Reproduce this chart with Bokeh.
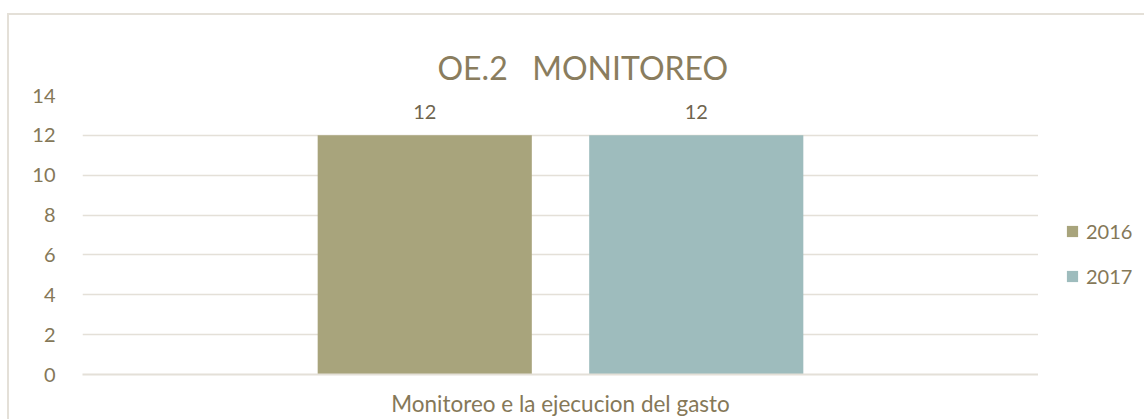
from bokeh.plotting import figure
from bokeh.layouts import row
from bokeh.models import (FactorRange, Range1d, Legend, LegendItem,
                          ColumnDataSource, LabelSet, SingleIntervalTicker)
from bokeh.core.properties import value
from bokeh.transform import dodge
from bokeh.embed import file_html
from bokeh.resources import INLINE

# ---- data ----
categories = ["Monitoreo e la ejecucion del gasto"]
years = ["2016", "2017"]
values_2016 = [12]
values_2017 = [12]
title_text = "OE.2\u00a0\u00a0\u00a0MONITOREO"

FONT = "Lato"
TXT = "#857858"
GRID = "#E4E0D8"
C2016 = "#A8A47C"
C2017 = "#9EBCBD"

src = ColumnDataSource(dict(cat=categories, v16=values_2016, v17=values_2017,
                            l16=[str(v) for v in values_2016],
                            l17=[str(v) for v in values_2017]))

p = figure(x_range=FactorRange(*categories), y_range=Range1d(0, 14),
           width=1029, height=404, output_backend="svg", toolbar_location=None,
           min_border_left=73, min_border_right=0, min_border_top=80,
           min_border_bottom=43, outline_line_color=None)

p.title.text = title_text
p.title.align = "left"
p.title.offset = 355
p.title.text_font = FONT
p.title.text_font_size = "32px"
p.title.text_font_style = "normal"
p.title.text_color = "#8A7D5E"
p.title.standoff = 18

off = 0.142
w = 0.224
r1 = p.vbar(x=dodge("cat", -off, range=p.x_range), top="v16", width=w, source=src,
            fill_color=C2016, line_color=None)
r2 = p.vbar(x=dodge("cat", off, range=p.x_range), top="v17", width=w, source=src,
            fill_color=C2017, line_color=None)

for fld, lab, o in (("v16", "l16", -off), ("v17", "l17", off)):
    p.add_layout(LabelSet(x=dodge("cat", o, range=p.x_range), y=fld, text=lab, source=src,
                          text_align="center", text_baseline="bottom", y_offset=16,
                          text_font=value(FONT), text_font_size=value("20px"),
                          text_color=value("#6F654F")))

# axes
p.yaxis.ticker = SingleIntervalTicker(interval=2)
p.yaxis.axis_line_color = None
p.yaxis.major_tick_line_color = None
p.yaxis.minor_tick_line_color = None
p.yaxis.major_label_standoff = 21
p.yaxis.major_label_text_font = FONT
p.yaxis.major_label_text_font_size = "20px"
p.yaxis.major_label_text_color = TXT

p.xaxis.axis_line_color = GRID
p.xaxis.axis_line_width = 2
p.xaxis.major_tick_line_color = None
p.xaxis.minor_tick_line_color = None
p.xaxis.major_tick_out = 0
p.xaxis.major_label_standoff = 15
p.xaxis.major_label_text_font = FONT
p.xaxis.major_label_text_font_size = "22.5px"
p.xaxis.major_label_text_color = TXT

p.xgrid.grid_line_color = None
p.ygrid.grid_line_color = GRID
p.ygrid.grid_line_width = 1.5

# legend panel (separate small figure to the right of the plot area);
# its bars sit outside its visible range, so only the legend shows
lg = figure(width=106, height=404, output_backend="svg", toolbar_location=None,
            min_border=0, outline_line_color=None,
            x_range=Range1d(0, 1), y_range=Range1d(0, 1))
lg.axis.visible = False
lg.grid.visible = False
g1 = lg.vbar(x="v16", top="v16", width=0.1, source=src, fill_color=C2016, line_color=None)
g2 = lg.vbar(x="v17", top="v17", width=0.1, source=src, fill_color=C2017, line_color=None)
legend = Legend(items=[LegendItem(label=years[0], renderers=[g1]),
                       LegendItem(label=years[1], renderers=[g2])],
                location=(27, 86), border_line_color=None, background_fill_alpha=0,
                padding=0, margin=0, spacing=21, glyph_width=14, glyph_height=14,
                label_height=20, label_standoff=7, label_text_font=FONT,
                label_text_font_size="20px", label_text_color=TXT)
lg.add_layout(legend, "center")

lay = row(p, lg, spacing=0,
          styles={"margin-top": "13px", "margin-left": "7px",
                  "border-top": "2px solid " + GRID,
                  "border-left": "2px solid " + GRID})

open("out.html", "w").write(file_html(lay, INLINE))
